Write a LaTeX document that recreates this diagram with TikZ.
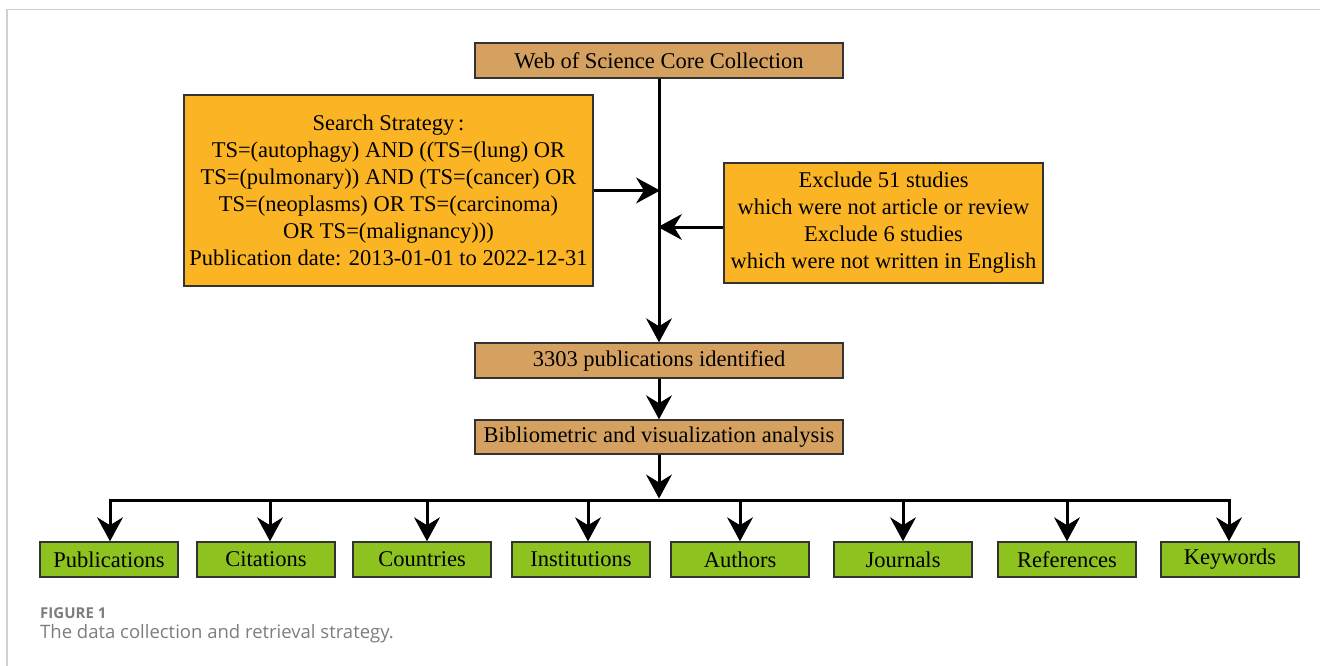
\documentclass[tikz,border=0pt]{standalone}
\usepackage{fontspec}
\setmainfont{Liberation Serif}
\newfontfamily\capfont{Open Sans}
\usetikzlibrary{arrows.meta,calc}
\definecolor{tanbox}{RGB}{212,161,96}
\definecolor{orangebox}{RGB}{251,181,36}
\definecolor{greenbox}{RGB}{141,194,31}
\definecolor{framegray}{RGB}{208,208,208}
\definecolor{capgray}{RGB}{125,125,125}
\tikzset{
  basebox/.style={draw=black!80, line width=1.5pt, inner sep=0pt, align=center,
    font=\fontsize{22.5}{27}\selectfont, text=black},
  tanstyle/.style={basebox, fill=tanbox, minimum width=368pt, minimum height=35pt},
  orangestyle/.style={basebox, fill=orangebox},
  greenstyle/.style={basebox, fill=greenbox, minimum width=138pt, minimum height=35pt},
  arr/.style={line width=3pt, -{Stealth[length=24pt,width=26pt,inset=8pt,fill=black,line width=1pt]}},
  plainline/.style={line width=3pt},
}
\begin{document}
\begin{tikzpicture}[x=1pt,y=-1pt]
\useasboundingbox (0,0) rectangle (1320,666);
% frame
\draw[framegray, line width=1.5pt] (7,666) -- (7,9.5) -- (1320,9.5);
% main boxes
\node[tanstyle] (wos) at (659,60.5) {Web of Science Core Collection};
\node[orangestyle, minimum width=409pt, minimum height=191pt] (search) at (388.5,190.5)
  {Search Strategy\,:\\TS=(autophagy) AND ((TS=(lung) OR\\TS=(pulmonary)) AND (TS=(cancer) OR\\TS=(neoplasms) OR TS=(carcinoma)\\OR TS=(malignancy)))\\Publication date: 2013-01-01 to 2022-12-31};
\node[orangestyle, minimum width=319pt, minimum height=120pt] (excl) at (883.5,223)
  {Exclude 51 studies\\which were not article or review\\Exclude 6 studies\\which were not written in English};
\node[tanstyle] (ident) at (659,360.5) {3303 publications identified};
\node[tanstyle, minimum height=34pt] (biblio) at (659,437) {Bibliometric and visualization analysis};
% green boxes
\node[greenstyle] (g1) at (109,559.5) {Publications};
\node[greenstyle] (g2) at (266,559.5) {Citations};
\node[greenstyle] (g3) at (422,559.5) {Countries};
\node[greenstyle] (g4) at (581,559.5) {Institutions};
\node[greenstyle] (g5) at (740,559.5) {Authors};
\node[greenstyle] (g6) at (903,559.5) {Journals};
\node[greenstyle] (g7) at (1067,559.5) {References};
\node[greenstyle] (g8) at (1230,559.5) {Keywords};
% trunk
\draw[arr] (wos.south) -- (ident.north);
\coordinate (sIn) at (search.east -| wos.south);
\draw[arr] (search.east) -- ([xshift=1pt]sIn);
\coordinate (eOut) at ([yshift=-4pt]excl.west);
\draw[arr] (eOut) -- ([xshift=-1pt]eOut -| wos.south);
\draw[arr] (ident.south) -- (biblio.north);
\coordinate (bus) at (659,500);
\draw[arr] (biblio.south) -- ([yshift=1.5pt]bus);
% bus line
\coordinate (busL) at (110,500);
\coordinate (busR) at (1229,500);
\draw[plainline, line cap=rect] (busL) -- (busR);
\foreach \xx/\g in {110/g1,270/g2,427/g3,588/g4,740/g5,903/g6,1067/g7,1229/g8}{
  \coordinate (t\g) at (\xx,500);
  \draw[arr] (t\g) -- (t\g |- \g.north);
}
% caption
\node[anchor=base west, inner sep=0pt, text=capgray, font=\capfont\bfseries\fontsize{15}{18}\selectfont] (fig) at (40,618) {FIGURE 1};
\node[anchor=base west, inner sep=0pt, text=capgray, font=\capfont\fontsize{18.5}{22}\selectfont] (cap) at (40,638) {The data collection and retrieval strategy.};
\end{tikzpicture}
\end{document}
